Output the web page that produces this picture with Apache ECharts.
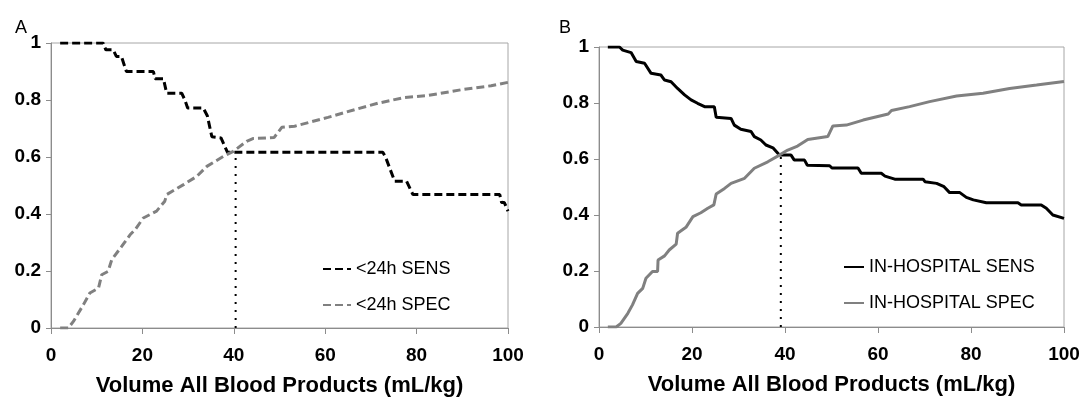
<!DOCTYPE html>
<html>
<head>
<meta charset="utf-8">
<script src="https://cdn.jsdelivr.net/npm/echarts@6/dist/echarts.min.js"></script>
<style>
html,body{margin:0;padding:0;background:#fff;}
#chart{width:1082px;height:398px;}
</style>
</head>
<body>
<div id="chart"></div>
<script>
// ---- Data ----
var xTicks = [0, 20, 40, 60, 80, 100];
var yTicks = [0, 0.2, 0.4, 0.6, 0.8, 1];
var axisTitle = 'Volume All Blood Products (mL/kg)';
var panelLabels = ['A', 'B'];
var namesA = ['<24h SENS', '<24h SPEC'];
var namesB = ['IN-HOSPITAL SENS', 'IN-HOSPITAL SPEC'];

var sensA = [[2,1],[11.4,1],[12,0.976],[13.6,0.976],[14.3,0.953],[15.4,0.953],[16.5,0.9],[22.4,0.9],[22.8,0.875],[24.6,0.875],[25.3,0.824],[28.6,0.824],[29.3,0.8],[29.9,0.772],[33.3,0.772],[34.2,0.745],[35.2,0.671],[37.2,0.667],[38.6,0.617],[72.6,0.617],[73.2,0.6],[75.2,0.515],[77.8,0.515],[79.2,0.468],[98.2,0.468],[98.6,0.44],[99.2,0.44],[100,0.41]];
var specA = [[2,0],[3.8,0],[4.9,0.023],[7.1,0.082],[8.5,0.123],[10.4,0.14],[11.1,0.187],[12.5,0.199],[13.3,0.24],[15.5,0.287],[17.3,0.327],[18.4,0.345],[20.2,0.386],[23.1,0.41],[24.9,0.445],[25.3,0.468],[29,0.503],[31.9,0.532],[34.1,0.567],[37.7,0.602],[39.9,0.62],[42.8,0.655],[44.3,0.665],[48.8,0.668],[50.5,0.704],[53.3,0.708],[60.6,0.739],[66.4,0.766],[71.6,0.789],[77.4,0.809],[82.5,0.816],[89.8,0.836],[96.3,0.85],[100,0.862]];
var cutA = [[40.4,0],[40.4,0.615]];

var sensB = [[1.9,1],[4.4,1],[5.1,0.989],[6.9,0.98],[8,0.948],[9.8,0.942],[11.2,0.906],[13.3,0.9],[14.1,0.882],[15.5,0.876],[16.9,0.852],[18.4,0.829],[19.8,0.811],[21.2,0.799],[22.7,0.787],[24.8,0.787],[25.2,0.749],[28.4,0.745],[29.1,0.721],[30.5,0.706],[32.7,0.698],[33.4,0.68],[34.8,0.668],[35.9,0.65],[37.4,0.64],[38.8,0.614],[41.3,0.614],[42,0.596],[44.2,0.596],[44.8,0.578],[49.6,0.576],[50.1,0.568],[55.7,0.568],[56.4,0.549],[60.7,0.549],[61.5,0.539],[63.6,0.528],[69.7,0.528],[70.1,0.519],[72.6,0.513],[74.2,0.501],[75.4,0.48],[77.6,0.48],[79,0.463],[80.5,0.454],[83.3,0.444],[90.1,0.444],[90.8,0.436],[95.1,0.436],[96.2,0.424],[97.6,0.4],[100,0.388]];
var specB = [[1.9,0],[3.7,0],[4.7,0.013],[6.2,0.049],[7.2,0.079],[8.3,0.12],[9.4,0.138],[10.1,0.174],[11.5,0.198],[12.6,0.198],[12.7,0.239],[14.1,0.254],[15.1,0.275],[16.6,0.296],[16.9,0.335],[18.7,0.356],[20.2,0.394],[21.9,0.408],[23.4,0.424],[24.7,0.436],[25.2,0.475],[27,0.495],[28.4,0.513],[31.3,0.531],[33.4,0.567],[36.3,0.59],[38.8,0.614],[40.6,0.632],[42.7,0.646],[44.9,0.67],[49.2,0.68],[50.3,0.718],[53.2,0.721],[56.8,0.739],[62.2,0.761],[62.9,0.773],[66.8,0.787],[71.1,0.805],[76.9,0.825],[82.6,0.835],[88.3,0.852],[94.1,0.864],[100,0.877]];
var cutB = [[39.1,0],[39.1,0.61]];

// ---- Styling ----
var FONT = 'Liberation Sans, Arial, Helvetica, sans-serif';
var BLACK = '#000000';
var GRAY = '#808080';
var AXIS = '#8c8c8c';

function xAx(gi) {
  return {
    type: 'value', gridIndex: gi, min: 0, max: 100, interval: 20,
    name: axisTitle, nameLocation: 'middle', nameGap: 47,
    nameTextStyle: {fontFamily: FONT, fontSize: 22, fontWeight: 'bold', color: '#000'},
    axisLine: {show: true, lineStyle: {color: AXIS, width: 1}},
    axisTick: {show: true, inside: false, length: 6, lineStyle: {color: AXIS}},
    axisLabel: {fontFamily: FONT, fontSize: 19, fontWeight: 'bold', color: '#000', margin: 18,
      formatter: function (v) { return xTicks.indexOf(v) >= 0 ? String(v) : ''; }},
    splitLine: {show: false}
  };
}
function yAx(gi) {
  return {
    type: 'value', gridIndex: gi, min: 0, max: 1, interval: 0.2,
    axisLine: {show: true, lineStyle: {color: AXIS, width: 1}},
    axisTick: {show: true, inside: false, length: 5, lineStyle: {color: AXIS}},
    axisLabel: {fontFamily: FONT, fontSize: 19, fontWeight: 'bold', color: '#000', margin: 10,
      formatter: function (v) {
        var r = Math.round(v * 10) / 10;
        return yTicks.indexOf(r) >= 0 ? String(r) : '';
      }},
    splitLine: {show: false}
  };
}
function lineSeries(name, data, gi, color, dashed) {
  return {
    name: name, type: 'line', xAxisIndex: gi, yAxisIndex: gi, data: data,
    showSymbol: false, symbol: 'none', silent: true, animation: false,
    lineStyle: {color: color, width: 3, type: dashed ? [8, 4] : 'solid', cap: 'butt'},
    itemStyle: {color: color}
  };
}
function cutSeries(data, gi) {
  return {
    name: 'cut' + gi, type: 'line', xAxisIndex: gi, yAxisIndex: gi, data: data,
    showSymbol: false, symbol: 'none', silent: true, animation: false,
    lineStyle: {color: '#000', width: 2, type: [2, 6]}
  };
}

var chart = echarts.init(document.getElementById('chart'), null, {renderer: 'canvas'});
chart.setOption({
  backgroundColor: '#ffffff',
  animation: false,
  title: [
    {text: panelLabels[0], left: 10, top: 14, textStyle: {fontFamily: FONT, fontSize: 18, fontWeight: 'normal', color: '#000'}},
    {text: panelLabels[1], left: 554, top: 14, textStyle: {fontFamily: FONT, fontSize: 18, fontWeight: 'normal', color: '#000'}}
  ],
  grid: [
    {left: 51, width: 457, top: 43, height: 285, show: true, borderColor: '#a6a6a6', borderWidth: 1, backgroundColor: 'transparent', containLabel: false, outerBoundsMode: 'none'},
    {left: 599, width: 465, top: 47, height: 280, show: true, borderColor: '#a6a6a6', borderWidth: 1, backgroundColor: 'transparent', containLabel: false, outerBoundsMode: 'none'}
  ],
  xAxis: [xAx(0), xAx(1)],
  yAxis: [yAx(0), yAx(1)],
  legend: [
    {data: namesA, orient: 'vertical', left: 317, top: 255, itemWidth: 28, itemHeight: 14, itemGap: 18,
      itemStyle: {opacity: 0},
      textStyle: {fontFamily: FONT, fontSize: 18, color: '#000'}, selectedMode: false},
    {data: namesB, orient: 'vertical', left: 838, top: 253, itemWidth: 20, itemHeight: 14, itemGap: 18,
      itemStyle: {opacity: 0},
      textStyle: {fontFamily: FONT, fontSize: 18, color: '#000'}, selectedMode: false}
  ],
  series: [
    lineSeries(namesA[0], sensA, 0, BLACK, true),
    lineSeries(namesA[1], specA, 0, GRAY, true),
    cutSeries(cutA, 0),
    lineSeries(namesB[0], sensB, 1, BLACK, false),
    lineSeries(namesB[1], specB, 1, GRAY, false),
    cutSeries(cutB, 1)
  ]
});
</script>
</body>
</html>
